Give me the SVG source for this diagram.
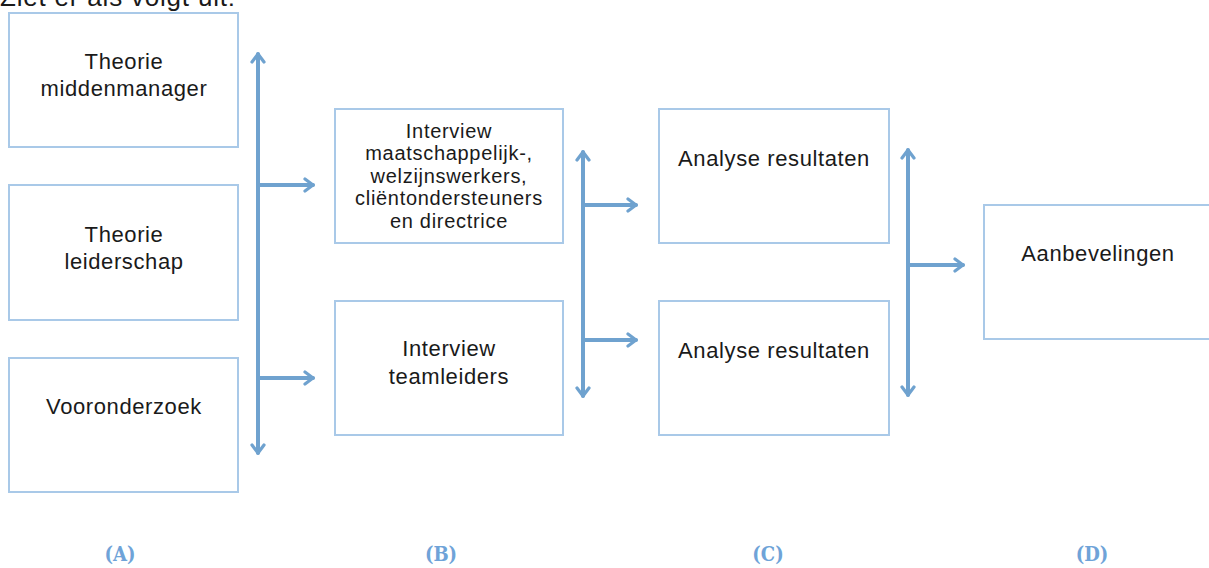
<svg xmlns="http://www.w3.org/2000/svg" width="1209" height="568" viewBox="0 0 1209 568">
<defs>
<style>
.box{fill:#fff;stroke:#a9c9e8;stroke-width:2}
.t{font-family:"Liberation Sans",Arial,sans-serif;fill:#1a1a1a;text-anchor:middle;font-size:22px;letter-spacing:0.6px}
.s{font-size:20px;letter-spacing:0.7px}
.lbl{font-family:"DejaVu Serif Condensed","Liberation Serif",serif;font-weight:bold;font-size:20px;fill:#6fa3d8;text-anchor:middle}
.ar{stroke:#6fa2cf;stroke-width:4;fill:none;stroke-linecap:round}
</style>
<marker id="ah" viewBox="0 0 12 12" refX="9" refY="6" markerWidth="4" markerHeight="4" orient="auto-start-reverse" markerUnits="strokeWidth">
<polyline points="3,1.5 9,6 3,10.5" fill="none" stroke="#6fa2cf" stroke-width="2.4" stroke-linecap="round" stroke-linejoin="round"/>
</marker>
</defs>
<rect width="1209" height="568" fill="#fff"/>
<text x="0" y="6" font-family="Liberation Sans,Arial,sans-serif" font-size="26" letter-spacing="0.8" fill="#1a1a1a">Ziet er als volgt uit:</text>
<g id="nA1"><rect class="box" x="9" y="13" width="229" height="134"/><text class="t" x="124" y="69">Theorie</text><text class="t" x="124" y="96">middenmanager</text></g>
<g id="nA2"><rect class="box" x="9" y="185" width="229" height="135"/><text class="t" x="124" y="242">Theorie</text><text class="t" x="124" y="269">leiderschap</text></g>
<g id="nA3"><rect class="box" x="9" y="358" width="229" height="134"/><text class="t" x="124" y="414">Vooronderzoek</text></g>
<g id="nB1"><rect class="box" x="335" y="109" width="228" height="134"/><text class="t s"><tspan x="449" y="138">Interview</tspan><tspan x="449" y="160">maatschappelijk-,</tspan><tspan x="449" y="183">welzijnswerkers,</tspan><tspan x="449" y="205">cliëntondersteuners</tspan><tspan x="449" y="228">en directrice</tspan></text></g>
<g id="nB2"><rect class="box" x="335" y="301" width="228" height="134"/><text class="t" x="449" y="356">Interview</text><text class="t" x="449" y="384">teamleiders</text></g>
<g id="nC1"><rect class="box" x="659" y="109" width="230" height="134"/><text class="t" x="774" y="166">Analyse resultaten</text></g>
<g id="nC2"><rect class="box" x="659" y="301" width="230" height="134"/><text class="t" x="774" y="358">Analyse resultaten</text></g>
<g id="nD"><rect class="box" x="984" y="205" width="230" height="134"/><text class="t" x="1098" y="261">Aanbevelingen</text></g>
<g id="connectors">
<line class="ar" x1="258" y1="54" x2="258" y2="453" marker-start="url(#ah)" marker-end="url(#ah)"/>
<line class="ar" x1="258" y1="185" x2="313" y2="185" marker-end="url(#ah)"/>
<line class="ar" x1="258" y1="378" x2="313" y2="378" marker-end="url(#ah)"/>
<line class="ar" x1="583" y1="152" x2="583" y2="396" marker-start="url(#ah)" marker-end="url(#ah)"/>
<line class="ar" x1="583" y1="205" x2="636" y2="205" marker-end="url(#ah)"/>
<line class="ar" x1="583" y1="340" x2="636" y2="340" marker-end="url(#ah)"/>
<line class="ar" x1="908" y1="150" x2="908" y2="395" marker-start="url(#ah)" marker-end="url(#ah)"/>
<line class="ar" x1="908" y1="265" x2="963" y2="265" marker-end="url(#ah)"/>
</g>
<g id="labels">
<text class="lbl" x="120" y="561">(A)</text>
<text class="lbl" x="441" y="561">(B)</text>
<text class="lbl" x="768" y="561">(C)</text>
<text class="lbl" x="1092" y="561">(D)</text>
</g>
</svg>
